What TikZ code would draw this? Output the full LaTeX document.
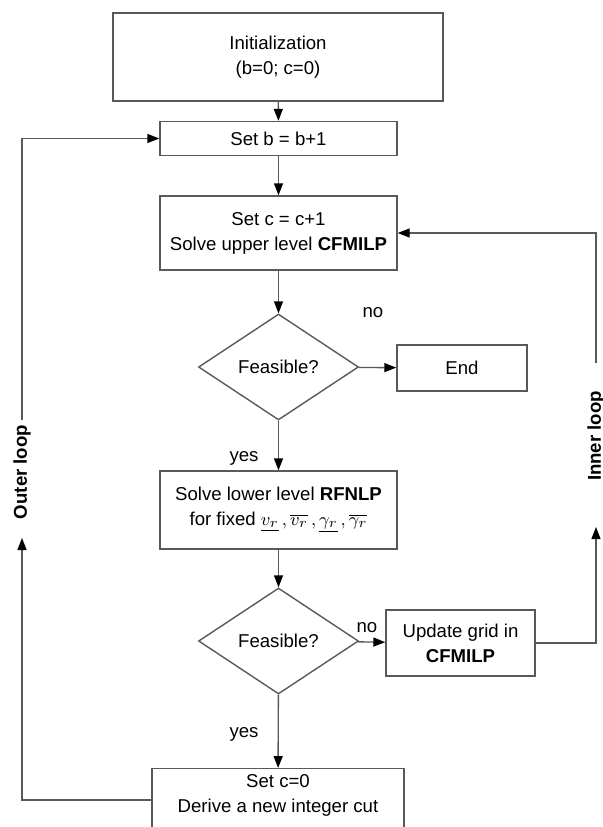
\documentclass[tikz,border=0pt]{standalone}
\usepackage{fontspec}
\setmainfont{Liberation Sans}
\usetikzlibrary{shapes.geometric,arrows.meta}

\tikzset{
  box/.style={draw=black!65,line width=0.7pt,align=center,inner sep=0pt},
  test/.style={diamond,draw=black!65,line width=0.7pt,inner sep=0pt,
    minimum width=80pt,minimum height=53pt},
  flow/.style={draw=black!65,line width=0.7pt,
    -{Triangle[length=6pt,width=4.5pt,color=black]}},
  txt/.style={font=\fontsize{9.3}{12.5}\selectfont},
  looplbl/.style={font=\fontsize{9.3}{11}\selectfont\bfseries,rotate=90}
}

\begin{document}
\begin{tikzpicture}[x=0.5pt,y=-0.5pt]
\useasboundingbox (0,0) rectangle (603,827);
\clip (0,0) rectangle (603,827);

%Main column
\node[box,txt,minimum width=165pt,minimum height=44pt] (init) at (278,57) {Initialization\\(b=0; c=0)};
\node[box,txt,minimum width=118.5pt,minimum height=17pt] (setb) at (278.5,138.5) {Set b = b+1};
\node[box,txt,minimum width=118.5pt,minimum height=37pt] (setc) at (278.5,233) {Set c = c+1\\Solve upper level \textbf{CFMILP}};
\node[test,txt] (feas1) at (278.5,367) {Feasible?};
\node[box,txt,minimum width=65pt,minimum height=23pt] (end) at (462,368) {End};
\node[box,txt,minimum width=118.5pt,minimum height=39pt] (lower) at (278.5,510)
  {Solve lower level \textbf{RFNLP}\\for fixed $\underline{v_r}\,,\overline{v_r}\,,\underline{\gamma_r}\,,\overline{\gamma_r}$};
\node[test,txt] (feas2) at (278.5,641) {Feasible?};
\node[box,txt,minimum width=74.5pt,minimum height=33pt] (grid) at (460.5,643) {Update grid in\\\textbf{CFMILP}};
\node[box,txt,minimum width=126pt,inner ysep=3pt,anchor=north] (cut) at (278,768)
  {Set c=0\\Derive a new integer cut\rule[-16pt]{0pt}{0pt}};

%Labels
\node[txt] (no1) at (373,313) {no};
\node[txt] (yes1) at (244,458) {yes};
\node[txt] (no2) at (367,628) {no};
\node[txt] (yes2) at (244,734) {yes};

%Flow lines
\draw[flow] (init) -- (setb);
\draw[flow] (setb) -- (setc);
\draw[flow] (setc) -- (feas1);
\draw[flow] (feas1) -- (end);
\draw[flow] (feas1) -- (lower);
\draw[flow] (lower) -- (feas2);
\draw[flow] (feas2) -- (grid);
\draw[flow] (feas2) -- (cut);

%Inner loop
\node[looplbl] (inner) at (596,436) {Inner loop};
\coordinate (innerlow) at (596,527);
\coordinate (innerup) at (596,363);
\draw[flow] (grid.east) -| (innerlow);
\draw[flow] (innerup) |- (setc.east);

%Outer loop
\node[looplbl] (outer) at (22,472) {Outer loop};
\coordinate (outerlow) at (22,538);
\coordinate (outerup) at (22,420);
\path (cut.north west) ++(0,32) coordinate (cutout);
\draw[flow] (cutout) -| (outerlow);
\draw[flow] (outerup) |- (setb.west);
\end{tikzpicture}
\end{document}
